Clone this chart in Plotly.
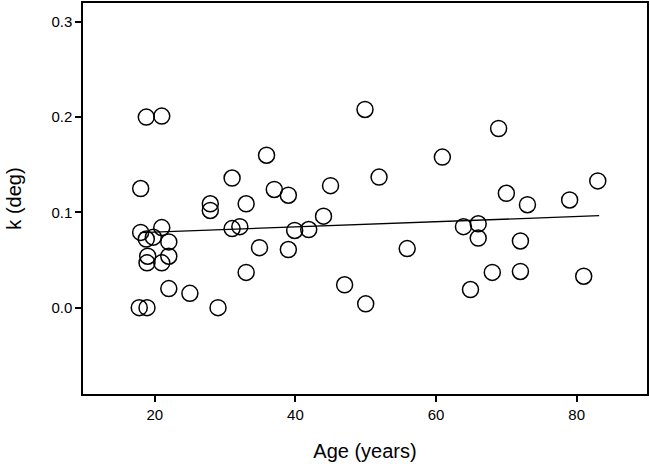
import plotly.graph_objects as go

# Ages (years) and k (deg)
age = [18.8, 21.0, 18.0, 35.9, 31.0, 37.0, 39.0, 27.9, 27.9, 33.0,
       45.0, 44.0, 18.0, 21.0, 31.0, 32.1, 39.9, 41.9, 49.9, 68.9,
       60.9, 51.9, 70.0, 73.0, 79.0, 83.0, 63.9, 66.0, 66.0, 72.0,
       55.9, 47.0, 50.0, 64.9, 68.0, 72.0, 81.0, 34.9, 39.0, 33.0,
       22.0, 25.0, 29.0, 17.8, 18.9, 18.8, 19.8, 22.0, 19.0, 18.9,
       22.0, 21.0]
k_deg = [0.200, 0.201, 0.125, 0.160, 0.136, 0.124, 0.118, 0.109, 0.102, 0.109,
         0.128, 0.096, 0.079, 0.084, 0.083, 0.085, 0.081, 0.082, 0.208, 0.188,
         0.158, 0.137, 0.120, 0.108, 0.113, 0.133, 0.085, 0.088, 0.073, 0.070,
         0.062, 0.024, 0.004, 0.019, 0.037, 0.038, 0.033, 0.063, 0.061, 0.037,
         0.020, 0.015, 0.000, 0.000, 0.000, 0.072, 0.074, 0.069, 0.054, 0.047,
         0.054, 0.047]

# Regression line endpoints
fit_age = [18.0, 83.2]
fit_k = [0.0788, 0.0965]

x_ticks = [20, 40, 60, 80]
y_ticks = [0.0, 0.1, 0.2, 0.3]

FONT = 'Liberation Sans, Arial, sans-serif'

fig = go.Figure()

fig.add_trace(go.Scatter(
    x=age, y=k_deg,
    mode='markers',
    marker=dict(symbol='circle-open', size=16, color='black',
                line=dict(width=1.5, color='black')),
    showlegend=False,
))

fig.add_trace(go.Scatter(
    x=fit_age, y=fit_k,
    mode='lines',
    line=dict(color='black', width=1.3),
    showlegend=False,
))

fig.update_layout(
    width=650, height=464,
    margin=dict(l=83, r=3, t=3, b=70),
    paper_bgcolor='white',
    plot_bgcolor='white',
    font=dict(family=FONT, color='black'),
)

fig.update_xaxes(
    range=[9.8, 90], tickvals=x_ticks, automargin=False,
    ticks='outside', ticklen=6, tickwidth=1.5, tickcolor='black',
    tickfont=dict(size=15),
    showgrid=False, zeroline=False,
    showline=True, linecolor='black', linewidth=1.5, mirror=True,
    title=dict(text='Age (years)', font=dict(size=20), standoff=22),
)

fig.update_yaxes(
    range=[-0.0906, 0.3197], tickvals=y_ticks, tickformat='.1f', automargin=False,
    ticks='outside', ticklen=6, tickwidth=1.5, tickcolor='black',
    tickfont=dict(size=15),
    showgrid=False, zeroline=False,
    showline=True, linecolor='black', linewidth=1.5, mirror=True,
    title=dict(text='k (deg)', font=dict(size=20), standoff=24),
)

# page body has an 8px default margin; drop it so the figure sits at 0,0
fig.write_html('out.html', config={'displayModeBar': False},
               post_script="document.body.style.margin='0';document.body.style.overflow='hidden';")
